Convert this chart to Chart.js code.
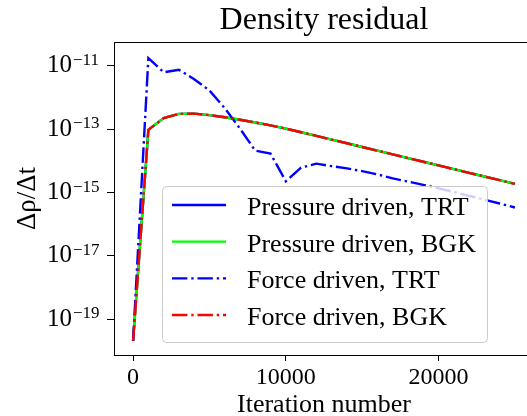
<!DOCTYPE html>
<html><head><meta charset="utf-8">
<style>html,body{margin:0;padding:0;overflow:hidden;background:#fff;width:527px;height:416px}</style>
<script src="https://cdn.jsdelivr.net/npm/chart.js@4"></script>
</head><body>
<canvas id="c" width="540" height="416" style="display:block;width:540px;height:416px"></canvas>
<script>
const iterations = [0,1000,2000,3000,4000,5000,6000,7000,8000,9000,10000,11000,12000,13000,14000,15000,16000,17000,18000,19000,20000,21000,22000,23000,24000,25000];
const pressureTRT = [2.07e-20,9.6e-14,2.25e-13,3.05e-13,3.1e-13,2.78e-13,2.4e-13,1.99e-13,1.63e-13,1.32e-13,1.05e-13,8.05e-14,6.15e-14,4.7e-14,3.6e-14,2.75e-14,2.1e-14,1.61e-14,1.23e-14,9.4e-15,7.19e-15,5.5e-15,4.2e-15,3.21e-15,2.46e-15,1.88e-15];
const pressureBGK = [2.07e-20,9.6e-14,2.25e-13,3.05e-13,3.1e-13,2.78e-13,2.4e-13,1.99e-13,1.63e-13,1.32e-13,1.05e-13,8.05e-14,6.15e-14,4.7e-14,3.6e-14,2.75e-14,2.1e-14,1.61e-14,1.23e-14,9.4e-15,7.19e-15,5.5e-15,4.2e-15,3.21e-15,2.46e-15,1.88e-15];
const forceTRT = [2.07e-20,1.75e-11,6.3e-12,7.5e-12,3.8e-12,1.67e-12,4.65e-13,1.04e-13,2.1e-14,1.69e-14,2.27e-15,6.1e-15,8.2e-15,6.84e-15,5.78e-15,4.75e-15,3.74e-15,2.82e-15,2.22e-15,1.75e-15,1.36e-15,1.04e-15,7.87e-16,5.97e-16,4.51e-16,3.37e-16];
const forceBGK = [2.07e-20,9.6e-14,2.25e-13,3.05e-13,3.1e-13,2.78e-13,2.4e-13,1.99e-13,1.63e-13,1.32e-13,1.05e-13,8.05e-14,6.15e-14,4.7e-14,3.6e-14,2.75e-14,2.1e-14,1.61e-14,1.23e-14,9.4e-15,7.19e-15,5.5e-15,4.2e-15,3.21e-15,2.46e-15,1.88e-15];
const seriesLabels = ['Pressure driven, TRT','Pressure driven, BGK','Force driven, TRT','Force driven, BGK'];
const xTickValues = [0,10000,20000];
const yTickExponents = [-19,-17,-15,-13,-11];

const SERIF = "'Liberation Serif','DejaVu Serif',serif";
function pts(ys){ return iterations.map((x,i) => ({x: x, y: ys[i]})); }
function expText(e){ return (e < 0 ? '\u2212' : '') + String(Math.abs(e)); }

const LW = 2.4;
const DASHDOT = [15.4, 3.84, 2.4, 3.84];
const Y_TICK_LEN = 7, Y_TICK_PAD = 35;

const datasets = [
  {label: seriesLabels[0], data: pts(pressureTRT), borderColor: '#0000ff', borderDash: [], order: 4},
  {label: seriesLabels[1], data: pts(pressureBGK), borderColor: '#00ff00', borderDash: [], order: 3},
  {label: seriesLabels[2], data: pts(forceTRT), borderColor: '#0000ff', borderDash: DASHDOT, order: 2},
  {label: seriesLabels[3], data: pts(forceBGK), borderColor: '#ff0000', borderDash: DASHDOT, order: 1}
].map(d => Object.assign(d, {borderWidth: LW, pointRadius: 0, pointHoverRadius: 0, tension: 0, fill: false}));

const frame = {
  id: 'frame',
  afterDatasetsDraw(chart) {
    const {ctx, chartArea: a} = chart;
    ctx.save();
    ctx.strokeStyle = '#000'; ctx.lineWidth = 1;
    ctx.beginPath();
    ctx.moveTo(a.left, a.top + 0.5); ctx.lineTo(a.right, a.top + 0.5);
    ctx.moveTo(a.right - 0.5, a.top); ctx.lineTo(a.right - 0.5, a.bottom);
    ctx.stroke();
    ctx.restore();
  }
};

const exponents = {
  id: 'exponents',
  afterDraw(chart) {
    const {ctx, chartArea: a} = chart;
    const ys = chart.scales.y;
    const x = a.left - Y_TICK_LEN - Y_TICK_PAD + 1;
    ctx.save();
    ctx.fillStyle = '#000';
    ctx.font = '17px ' + SERIF;
    ctx.textAlign = 'left'; ctx.textBaseline = 'alphabetic';
    yTickExponents.forEach(e => {
      const py = ys.getPixelForValue(Math.pow(10, e));
      ctx.fillText(expText(e), x, py - 1);
    });
    ctx.restore();
  }
};

const boxLegend = {
  id: 'boxLegend',
  afterDatasetsDraw(chart) {
    const {ctx, chartArea: a} = chart;
    const L = a.left + 48, T = a.top + 144, W = 325, H = 156;
    ctx.save();
    ctx.beginPath();
    ctx.roundRect(L + 0.5, T + 0.5, W, H, 4);
    ctx.fillStyle = 'rgba(255,255,255,0.8)';
    ctx.fill();
    ctx.strokeStyle = '#cccccc'; ctx.lineWidth = 1;
    ctx.stroke();
    chart.data.datasets.forEach((ds, i) => {
      const y = T + 19 + i * 36.67;
      ctx.beginPath();
      ctx.setLineDash(ds.borderDash || []);
      ctx.strokeStyle = ds.borderColor; ctx.lineWidth = LW; ctx.lineCap = 'butt';
      ctx.moveTo(L + 10, y); ctx.lineTo(L + 64, y);
      ctx.stroke();
      ctx.setLineDash([]);
      ctx.fillStyle = '#000';
      ctx.font = '26px ' + SERIF;
      ctx.textAlign = 'left'; ctx.textBaseline = 'alphabetic';
      ctx.fillText(ds.label, L + 85, y + 10);
    });
    ctx.restore();
  }
};

new Chart(document.getElementById('c'), {
  type: 'line',
  data: {datasets},
  options: {
    responsive: false,
    animation: false,
    devicePixelRatio: 1,
    layout: {padding: {left: 0, right: 6, top: 0, bottom: 0}},
    plugins: {
      legend: {display: false},
      tooltip: {enabled: false},
      title: {
        display: true, text: 'Density residual', fullSize: false,
        color: '#000', font: {family: SERIF, size: 32, weight: 'normal'},
        padding: {top: 1.7, bottom: 1.9}
      }
    },
    scales: {
      x: {
        type: 'linear', min: -1250, max: 26250,
        afterFit(s) { s.height = 61; },
        afterBuildTicks(s) { s.ticks = xTickValues.map(v => ({value: v})); },
        ticks: {color: '#000', font: {family: SERIF, size: 24}, padding: 2, maxRotation: 0, autoSkip: false,
                callback: v => String(v)},
        grid: {display: true, drawOnChartArea: false, drawTicks: true, tickLength: 6, tickColor: '#000', tickWidth: 1},
        border: {display: true, color: '#000', width: 1},
        title: {display: true, text: 'Iteration number', color: '#000',
                font: {family: SERIF, size: 26, lineHeight: 1}, padding: {top: 0, bottom: -2}}
      },
      y: {
        type: 'logarithmic', min: Math.pow(10, -20.13), max: Math.pow(10, -10.245),
        afterFit(s) { s.width = 114; s.paddingTop = 10; s.paddingBottom = 10; },
        afterBuildTicks(s) { s.ticks = yTickExponents.map(e => ({value: Math.pow(10, e)})); },
        ticks: {color: '#000', font: {family: SERIF, size: 25}, padding: Y_TICK_PAD, autoSkip: false,
                callback: () => '10'},
        grid: {display: true, drawOnChartArea: false, drawTicks: true, tickLength: Y_TICK_LEN, tickColor: '#000', tickWidth: 1},
        border: {display: true, color: '#000', width: 1},
        title: {display: true, text: 'Δρ/Δt', color: '#000',
                font: {family: SERIF, size: 27, lineHeight: 1.2}, padding: {top: 12, bottom: 0}}
      }
    }
  },
  plugins: [frame, boxLegend, exponents]
});
</script>
</body></html>
